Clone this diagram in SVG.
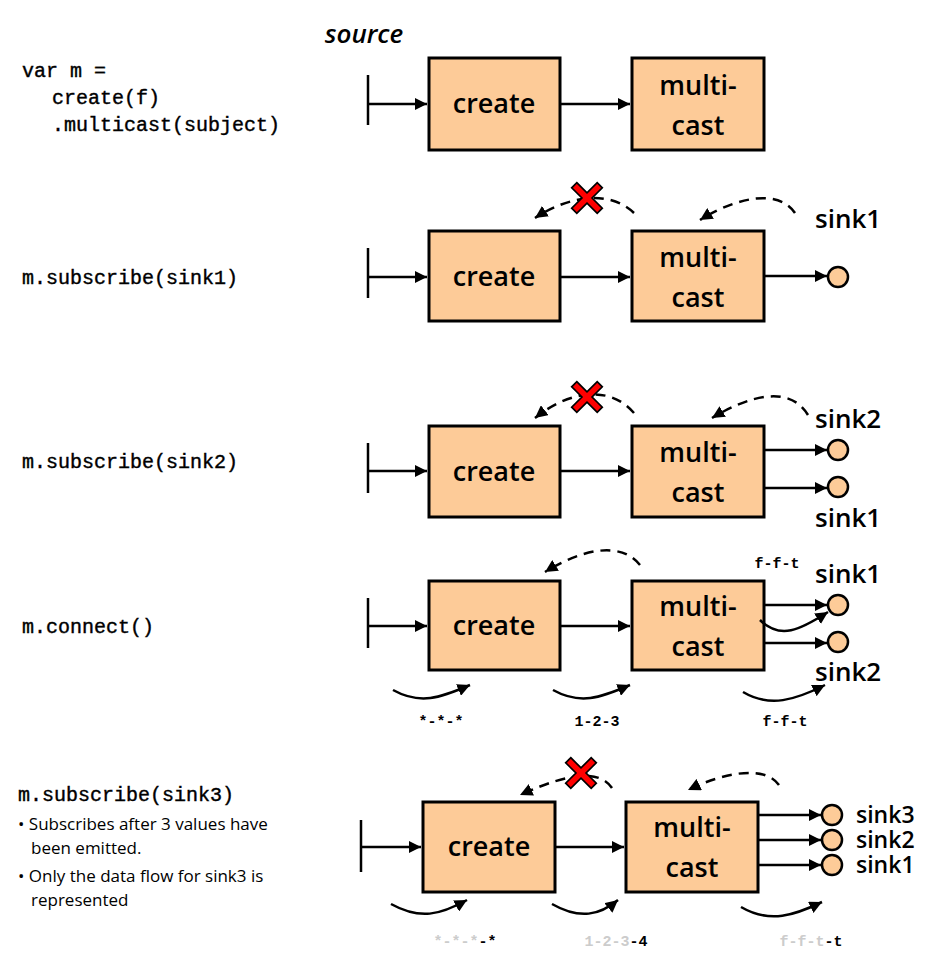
<svg xmlns="http://www.w3.org/2000/svg" width="950" height="956" viewBox="0 0 950 956">
<style>
.box{fill:#fdcb98;stroke:#000;stroke-width:3}
.bt{font-family:"Open Sans","DejaVu Sans",sans-serif;font-size:27px;font-weight:600;text-anchor:middle;fill:#000}
.code{font-family:"Liberation Mono",monospace;font-size:20px;fill:#000;stroke:#000;stroke-width:0.4}
.small{font-family:"Liberation Mono",monospace;font-size:15px;font-weight:bold;text-anchor:middle}
.lbl{font-family:"Open Sans","DejaVu Sans",sans-serif;font-size:26px;font-weight:600;fill:#000}
.lbl5{font-family:"Open Sans","DejaVu Sans",sans-serif;font-size:23px;font-weight:600;fill:#000}
.bul{font-family:"Open Sans","DejaVu Sans",sans-serif;font-size:17px;fill:#000}
.ln{stroke:#000;stroke-width:2.5;fill:none}
.dash{stroke:#000;stroke-width:2.5;fill:none;stroke-dasharray:10,7}
.sink{fill:#fdcb98;stroke:#000;stroke-width:2.5}
.x{fill:#f00;stroke:#000;stroke-width:2}
.gray{fill:#ccc}
</style>
<defs>
<marker id="a" viewBox="0 0 10 10" refX="10" refY="5" markerWidth="5" markerHeight="5" orient="auto"><path d="M0,0L10,5L0,10z"/></marker>
<symbol id="xm" viewBox="-20 -20 40 40" overflow="visible"><path class="x" d="M-12,-18L0,-6L12,-18L18,-12L6,0L18,12L12,18L0,6L-12,18L-18,12L-6,0L-18,-12z"/></symbol>
</defs>
<text x="364" y="43" class="lbl" font-style="italic" text-anchor="middle">source</text>
<g id="code">
<text x="22" y="77" class="code" xml:space="preserve">var m =</text>
<text x="52" y="104" class="code">create(f)</text>
<text x="52" y="131" class="code">.multicast(subject)</text>
<text x="22" y="284" class="code">m.subscribe(sink1)</text>
<text x="22" y="468" class="code">m.subscribe(sink2)</text>
<text x="22" y="633" class="code">m.connect()</text>
<text x="18" y="801" class="code">m.subscribe(sink3)</text>
<text x="18" y="830" class="bul">• Subscribes after 3 values have</text>
<text x="31" y="854" class="bul">been emitted.</text>
<text x="18" y="882" class="bul">• Only the data flow for sink3 is</text>
<text x="31" y="906" class="bul">represented</text>
</g>
<g id="nodes">
<g id="r1"><rect class="box" x="429" y="58" width="131" height="92"/><text class="bt" x="494" y="113">create</text>
<rect class="box" x="632" y="58" width="132" height="92"/><text class="bt" x="698" y="95">multi-</text><text class="bt" x="698" y="135">cast</text></g>
<g id="r2"><rect class="box" x="429" y="231" width="131" height="90"/><text class="bt" x="494" y="286">create</text>
<rect class="box" x="632" y="231" width="132" height="90"/><text class="bt" x="698" y="267">multi-</text><text class="bt" x="698" y="307">cast</text>
<circle class="sink" cx="838" cy="277" r="10"/><text class="lbl" x="815" y="228">sink1</text></g>
<g id="r3"><rect class="box" x="429" y="426" width="131" height="91"/><text class="bt" x="494" y="481">create</text>
<rect class="box" x="632" y="426" width="132" height="91"/><text class="bt" x="698" y="462">multi-</text><text class="bt" x="698" y="502">cast</text>
<circle class="sink" cx="838" cy="450" r="10"/><circle class="sink" cx="838" cy="487" r="10"/>
<text class="lbl" x="815" y="428">sink2</text><text class="lbl" x="815" y="527">sink1</text></g>
<g id="r4"><rect class="box" x="429" y="581" width="131" height="89"/><text class="bt" x="494" y="635">create</text>
<rect class="box" x="632" y="581" width="132" height="89"/><text class="bt" x="698" y="616">multi-</text><text class="bt" x="698" y="656">cast</text>
<circle class="sink" cx="838" cy="605" r="10"/><circle class="sink" cx="838" cy="642" r="10"/>
<text class="lbl" x="815" y="583">sink1</text><text class="lbl" x="815" y="681">sink2</text>
<text class="small" x="777" y="568">f-f-t</text>
<text class="small" x="441" y="726">*-*-*</text><text class="small" x="597" y="726">1-2-3</text><text class="small" x="785" y="726">f-f-t</text></g>
<g id="r5"><rect class="box" x="423" y="802" width="132" height="90"/><text class="bt" x="489" y="856">create</text>
<rect class="box" x="626" y="802" width="132" height="90"/><text class="bt" x="692" y="837">multi-</text><text class="bt" x="692" y="877">cast</text>
<circle class="sink" cx="832" cy="815" r="10"/><circle class="sink" cx="832" cy="840" r="10"/><circle class="sink" cx="832" cy="865" r="10"/>
<text class="lbl5" x="856" y="823">sink3</text><text class="lbl5" x="856" y="848">sink2</text><text class="lbl5" x="856" y="873">sink1</text>
<text class="small" x="465" y="946"><tspan class="gray">*-*-*</tspan>-*</text>
<text class="small" x="616" y="946"><tspan class="gray">1-2-3</tspan>-4</text>
<text class="small" x="811" y="946"><tspan class="gray">f-f-t</tspan>-t</text></g>
</g>
<g id="connectors">
<path class="ln" d="M368,75V125"/>
<path class="ln" d="M368,104H427" marker-end="url(#a)"/><path class="ln" d="M560,104H630" marker-end="url(#a)"/>
<path class="ln" d="M368,248V298"/><path class="ln" d="M368,277H427" marker-end="url(#a)"/><path class="ln" d="M560,277H630" marker-end="url(#a)"/><path class="ln" d="M764,276H827" marker-end="url(#a)"/>
<path class="dash" d="M634,213C610,190 570,195 535,218" marker-end="url(#a)"/>
<path class="dash" d="M795,213C780,190 740,195 700,220" marker-end="url(#a)"/>
<use href="#xm" x="570" y="181" width="34" height="34"/>
<path class="ln" d="M368,443V493"/><path class="ln" d="M368,471H427" marker-end="url(#a)"/><path class="ln" d="M560,471H630" marker-end="url(#a)"/>
<path class="ln" d="M764,450H827" marker-end="url(#a)"/><path class="ln" d="M764,488H827" marker-end="url(#a)"/>
<path class="dash" d="M634,413C610,385 570,390 535,418" marker-end="url(#a)"/>
<path class="dash" d="M808,415C790,385 750,395 712,418" marker-end="url(#a)"/>
<use href="#xm" x="570" y="380" width="34" height="34"/>
<path class="ln" d="M368,598V648"/><path class="ln" d="M368,626H427" marker-end="url(#a)"/><path class="ln" d="M560,626H630" marker-end="url(#a)"/>
<path class="ln" d="M764,605H827" marker-end="url(#a)"/><path class="ln" d="M764,643H827" marker-end="url(#a)"/>
<path class="ln" d="M760,620C780,640 800,630 828,612" marker-end="url(#a)"/>
<path class="dash" d="M640,565C620,540 580,550 545,572" marker-end="url(#a)"/>
<path class="ln" d="M393,690C420,705 440,698 470,685" marker-end="url(#a)"/>
<path class="ln" d="M553,690C580,705 600,698 630,685" marker-end="url(#a)"/>
<path class="ln" d="M743,692C770,708 795,700 825,685" marker-end="url(#a)"/>
<path class="ln" d="M361,820V872"/><path class="ln" d="M361,847H421" marker-end="url(#a)"/><path class="ln" d="M555,847H624" marker-end="url(#a)"/>
<path class="ln" d="M758,815H821" marker-end="url(#a)"/><path class="ln" d="M758,840H821" marker-end="url(#a)"/><path class="ln" d="M758,865H821" marker-end="url(#a)"/>
<path class="dash" d="M612,788C600,770 570,772 520,795" marker-end="url(#a)"/>
<path class="dash" d="M779,785C765,765 725,772 688,790" marker-end="url(#a)"/>
<use href="#xm" x="564" y="756" width="34" height="34"/>
<path class="ln" d="M391,904C420,920 440,915 467,900" marker-end="url(#a)"/>
<path class="ln" d="M552,904C580,920 600,915 618,900" marker-end="url(#a)"/>
<path class="ln" d="M741,907C770,924 795,915 822,902" marker-end="url(#a)"/>
</g>
</svg>
